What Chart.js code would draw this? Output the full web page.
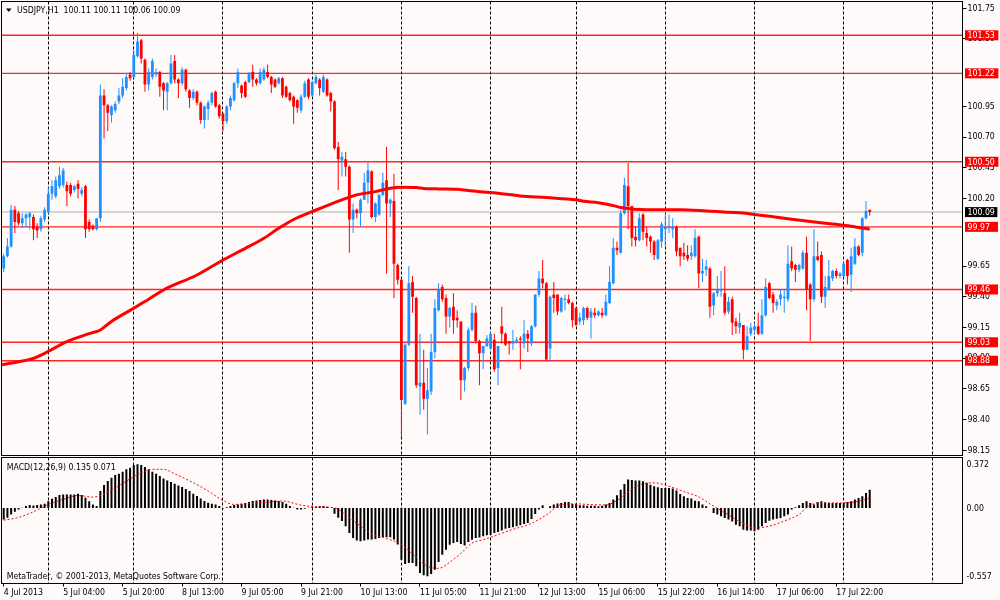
<!DOCTYPE html>
<html><head><meta charset="utf-8">
<script src="https://cdn.jsdelivr.net/npm/chart.js@4.4.0/dist/chart.umd.min.js"></script>
<style>
html,body{margin:0;padding:0;background:#fffafa;width:1000px;height:600px;overflow:hidden}
.w{position:absolute;left:0;width:1000px}
</style></head><body>
<div class="w" style="top:0;height:457px"><canvas id="c1" width="1000" height="457"></canvas></div>
<div class="w" style="top:457px;height:143px"><canvas id="c2" width="1000" height="143"></canvas></div>
<script>
// ---------- data (USDJPY H1) ----------
const symbol = 'USDJPY', period = 'H1';
const O = [99.63,99.73,99.81,100.11,100.08,100.00,100.04,100.05,100.05,99.97,
99.95,100.03,100.09,100.24,100.22,100.30,100.31,100.31,100.31,100.27,
100.32,100.24,100.30,100.01,99.98,99.95,100.04,101.04,100.96,100.88,
100.92,100.99,101.04,101.10,101.21,101.19,101.36,101.49,101.33,101.13,
101.19,101.21,101.23,101.14,101.07,101.14,101.32,101.17,101.14,101.25,
101.08,101.02,101.07,100.98,100.84,100.93,100.98,101.07,100.96,100.89,
100.83,100.95,101.00,101.14,101.12,101.15,101.15,101.23,101.17,101.14,
101.17,101.23,101.19,101.17,101.14,101.18,101.11,101.06,101.03,101.00,
100.92,101.03,101.17,101.04,101.14,101.17,101.07,101.17,101.06,100.99,
100.62,100.51,100.52,100.46,100.03,100.11,100.08,100.19,100.33,100.42,
100.05,100.07,100.23,100.35,100.16,100.18,99.66,99.54,98.53,99.01,
99.52,99.39,98.67,98.70,98.57,98.63,98.95,99.29,99.48,99.39,
99.24,99.32,99.23,99.20,98.72,98.82,99.13,99.27,99.04,98.94,
99.00,98.98,99.05,98.82,99.16,99.10,99.04,99.02,99.04,99.06,
99.02,99.10,99.02,99.16,99.42,99.55,99.51,98.98,99.42,99.42,
99.28,99.375,99.38,99.35,99.31,99.20,99.21,99.31,99.23,99.27,
99.25,99.27,99.25,99.35,99.51,99.80,99.76,100.08,100.30,100.14,
99.89,99.86,100.07,99.92,99.89,99.85,99.71,99.85,99.95,99.96,
99.95,99.97,99.80,99.76,99.74,99.73,99.73,99.89,99.59,99.62,
99.63,99.33,99.43,99.45,99.43,99.28,99.38,99.20,99.15,99.17,
98.97,99.10,99.13,99.16,99.10,99.25,99.51,99.42,99.33,99.38,
99.39,99.38,99.69,99.66,99.62,99.63,99.76,99.50,99.38,99.73,
99.74,99.40,99.46,99.55,99.61,99.57,99.57,99.70,99.58,99.67,
99.81,99.76,100.04,100.11];
const H = [99.75,99.88,100.15,100.14,100.10,100.08,100.08,100.09,100.07,100.00,
100.06,100.13,100.29,100.35,100.38,100.46,100.45,100.34,100.33,100.31,
100.35,100.29,100.31,100.03,99.99,100.04,101.13,101.09,100.97,100.96,
100.99,101.10,101.18,101.22,101.23,101.41,101.55,101.50,101.34,101.26,
101.34,101.26,101.24,101.15,101.15,101.37,101.37,101.18,101.27,101.26,
101.09,101.09,101.08,100.99,100.96,101.00,101.07,101.08,100.97,100.90,
100.96,101.04,101.15,101.26,101.13,101.16,101.23,101.29,101.18,101.26,
101.27,101.29,101.20,101.18,101.19,101.19,101.12,101.07,101.04,101.01,
101.05,101.16,101.18,101.16,101.21,101.18,101.21,101.18,101.07,101.00,
100.66,100.58,100.58,100.47,100.16,100.12,100.20,100.41,100.49,100.43,
100.17,100.24,100.41,100.62,100.20,100.40,99.67,99.55,99.02,99.65,
99.57,99.40,99.10,98.97,98.82,99.10,99.38,99.51,99.50,99.42,
99.32,99.43,99.29,99.20,98.83,99.15,99.35,99.33,99.05,99.00,
99.09,99.12,99.10,99.00,99.32,99.11,99.04,99.13,99.07,99.08,
99.21,99.13,99.17,99.42,99.61,99.70,99.52,99.41,99.52,99.42,
99.40,99.42,99.42,99.36,99.32,99.27,99.32,99.32,99.31,99.31,
99.29,99.31,99.42,99.65,99.88,99.85,100.11,100.37,100.49,100.14,
99.97,100.08,100.08,99.97,99.90,99.86,99.87,100.01,100.07,100.07,
100.04,99.98,99.80,99.84,99.82,99.82,99.95,99.90,99.71,99.70,
99.64,99.44,99.57,99.61,99.65,99.40,99.40,99.23,99.27,99.17,
99.16,99.19,99.19,99.27,99.38,99.55,99.52,99.44,99.38,99.46,
99.46,99.82,99.81,99.67,99.67,99.78,99.89,99.51,99.95,99.85,
99.77,99.57,99.70,99.62,99.63,99.60,99.68,99.71,99.80,99.88,
99.82,100.05,100.18,100.11];
const L = [99.60,99.72,99.80,99.92,99.98,99.96,99.97,99.95,99.86,99.88,
99.93,100.01,100.08,100.19,100.20,100.28,100.29,100.14,100.22,100.25,
100.20,100.22,99.88,99.93,99.94,99.94,100.01,100.69,100.75,100.82,
100.90,100.97,101.02,101.08,101.16,101.18,101.35,101.30,101.07,101.08,
101.17,101.19,101.03,100.92,100.92,101.13,101.14,101.02,101.12,101.07,
100.94,101.00,100.96,100.81,100.77,100.84,100.96,100.94,100.85,100.75,
100.81,100.92,100.99,101.10,101.02,101.02,101.14,101.11,101.12,101.13,
101.16,101.18,101.06,101.10,101.13,101.02,101.02,100.99,100.81,100.90,
100.90,101.02,101.01,101.03,101.13,101.04,101.06,101.03,100.91,100.60,
100.27,100.38,100.38,99.76,99.92,100.04,99.97,100.19,100.16,100.04,
100.01,100.06,100.22,99.59,100.05,99.39,99.50,98.26,98.52,99.00,
99.27,98.66,98.44,98.48,98.28,98.60,98.90,99.28,99.36,99.10,
99.15,99.10,99.15,98.56,98.63,98.80,99.12,99.02,98.68,98.81,
98.99,98.97,98.79,98.68,99.02,99.00,98.93,98.97,99.02,98.81,
98.98,98.95,99.00,99.15,99.40,99.47,98.88,98.87,99.27,99.25,
99.27,99.29,99.34,99.15,99.16,99.17,99.17,99.21,99.06,99.23,
99.24,99.23,99.24,99.34,99.50,99.74,99.75,100.07,99.95,99.81,
99.81,99.85,99.86,99.81,99.76,99.70,99.70,99.80,99.81,99.92,
99.88,99.73,99.65,99.70,99.69,99.70,99.72,99.47,99.52,99.57,
99.23,99.25,99.40,99.40,99.25,99.26,99.09,99.10,99.10,98.89,
98.97,99.08,99.10,99.09,99.09,99.24,99.38,99.27,99.29,99.33,
99.27,99.36,99.61,99.52,99.60,99.62,99.29,99.04,99.36,99.69,
99.35,99.31,99.45,99.53,99.55,99.55,99.56,99.50,99.44,99.66,
99.73,99.73,100.03,100.06];
const C = [99.73,99.81,100.11,100.01,100.00,100.04,100.07,100.08,99.95,99.94,
100.04,100.11,100.24,100.30,100.35,100.39,100.43,100.26,100.24,100.30,
100.28,100.27,99.95,99.95,99.95,100.04,101.04,100.96,100.90,100.95,
100.97,101.04,101.11,101.19,101.18,101.37,101.48,101.34,101.13,101.23,
101.32,101.23,101.11,101.08,101.14,101.30,101.17,101.14,101.25,101.09,
101.02,101.07,100.98,100.84,100.95,100.98,101.06,100.95,100.87,100.83,
100.95,101.02,101.14,101.23,101.06,101.03,101.22,101.17,101.14,101.23,
101.25,101.19,101.13,101.11,101.18,101.04,101.03,101.00,100.95,100.94,
101.03,101.14,101.03,101.15,101.19,101.10,101.19,101.04,100.99,100.61,
100.52,100.54,100.46,100.03,100.11,100.08,100.19,100.33,100.43,100.05,
100.16,100.23,100.33,100.16,100.19,99.67,99.54,98.56,99.01,99.51,
99.40,98.68,98.70,98.57,98.64,98.95,99.31,99.46,99.38,99.24,
99.31,99.21,99.21,98.72,98.82,99.13,99.27,99.04,98.94,99.00,
99.06,99.10,98.81,99.00,99.10,99.01,99.02,99.04,99.05,99.05,
99.10,99.06,99.16,99.42,99.55,99.51,98.89,99.40,99.39,99.28,
99.39,99.385,99.35,99.21,99.17,99.23,99.31,99.23,99.28,99.25,
99.28,99.25,99.36,99.52,99.80,99.78,100.08,100.31,100.14,99.88,
99.86,100.04,99.93,99.88,99.85,99.74,99.86,99.99,99.97,99.97,
99.97,99.77,99.73,99.73,99.71,99.76,99.88,99.59,99.61,99.65,
99.32,99.43,99.46,99.46,99.27,99.36,99.19,99.16,99.19,98.97,
99.08,99.15,99.16,99.10,99.25,99.48,99.39,99.35,99.36,99.42,
99.40,99.67,99.63,99.62,99.66,99.76,99.46,99.38,99.73,99.70,
99.40,99.48,99.57,99.61,99.57,99.59,99.67,99.57,99.73,99.81,
99.74,100.04,100.10,100.09];

// moving average (read at sampled bars)
const maBar = [-1,4,8,11,17,23,26,29,34,39,43,52,59,65,70,74,78,83,91,95,100,104,107,111,113,117,122,125,131,139,146,154,156,160,164,166,173,182,189,195,199,203,208,212,217,221,226,230,233];
const maVal = [98.845,98.872,98.899,98.94,99.035,99.10,99.13,99.20,99.29,99.38,99.456,99.578,99.70,99.795,99.877,99.958,100.03,100.094,100.19,100.23,100.257,100.284,100.292,100.29,100.283,100.279,100.276,100.265,100.249,100.222,100.208,100.19,100.178,100.167,100.143,100.128,100.11,100.11,100.10,100.088,100.083,100.067,100.048,100.032,100.013,99.999,99.983,99.965,99.951];

// horizontal levels
const levels = [101.53, 101.22, 100.50, 99.97, 99.46, 99.03, 98.88];
const priceTicks = [101.75,101.50,100.95,100.70,100.45,100.20,99.65,99.40,99.15,98.90,98.65,98.40,98.15];

// MACD(12,26,9)
const macdHist = [-0.085,-0.073,-0.048,-0.028,-0.011,0.001,0.014,0.021,0.018,0.021,
0.026,0.031,0.050,0.068,0.080,0.095,0.100,0.100,0.100,0.100,
0.105,0.095,0.075,0.050,0.026,0.014,0.125,0.169,0.198,0.223,
0.243,0.253,0.267,0.285,0.297,0.317,0.322,0.317,0.302,0.285,
0.267,0.253,0.235,0.218,0.203,0.191,0.179,0.166,0.154,0.139,
0.125,0.105,0.088,0.070,0.051,0.038,0.031,0.026,0.014,-0.004,
0.006,0.014,0.021,0.026,0.031,0.036,0.043,0.051,0.055,0.058,
0.063,0.063,0.058,0.055,0.051,0.043,0.031,0.014,0.001,-0.011,
-0.011,-0.006,0.001,0.006,0.009,0.014,0.014,0.009,0.001,-0.043,
-0.073,-0.097,-0.134,-0.184,-0.221,-0.240,-0.245,-0.240,-0.233,-0.233,
-0.228,-0.221,-0.216,-0.216,-0.216,-0.233,-0.270,-0.381,-0.413,-0.406,
-0.406,-0.430,-0.480,-0.497,-0.504,-0.487,-0.455,-0.398,
-0.345,-0.308,-0.271,-0.259,-0.251,-0.266,-0.276,-0.251,-0.234,-0.222,
-0.217,-0.209,-0.202,-0.197,-0.185,-0.177,-0.167,-0.153,-0.148,-0.143,
-0.135,-0.128,-0.118,-0.111,-0.081,-0.044,-0.012,0.020,0.000,0.012,
0.025,0.032,0.037,0.044,0.044,0.030,0.030,0.020,0.020,0.017,
0.017,0.017,0.012,0.017,0.025,0.037,0.062,0.094,0.135,0.177,
0.209,0.207,0.202,0.202,0.197,0.185,0.172,0.160,0.153,0.148,
0.148,0.148,0.143,0.128,0.103,0.086,0.074,0.069,0.054,0.049,
0.025,0.012,0.000,-0.037,-0.049,-0.062,-0.074,-0.086,-0.099,-0.123,
-0.135,-0.160,-0.167,-0.167,-0.172,-0.160,-0.135,-0.111,-0.094,-0.086,
-0.079,-0.074,-0.062,-0.049,-0.012,0.005,0.020,0.037,0.049,0.037,
0.025,0.044,0.049,0.042,0.037,0.037,0.037,0.037,0.037,0.044,
0.049,0.062,0.074,0.086,0.111,0.135];
const signalBar = [0,4,8,12,16,20,24,29,33,37,40,43,46,51,55,59,62,66,71,75,80,84,89,92,96,99,103,107,110,114,117,120,123,126,129,132,137,141,146,150,154,158,162,165,168,171,175,179,183,187,190,194,198,202,206,210,214,217,221,225,229,233];
const signalVal = [-0.090,-0.070,-0.028,0.026,0.063,0.092,0.080,0.132,0.198,0.260,0.285,0.285,0.252,0.186,0.125,0.055,0.026,0.031,0.043,0.051,0.021,0.009,0.001,-0.048,-0.134,-0.190,-0.226,-0.270,-0.340,-0.430,-0.445,-0.400,-0.335,-0.259,-0.234,-0.207,-0.158,-0.125,-0.052,0.025,0.030,0.025,0.022,0.055,0.118,0.170,0.185,0.160,0.120,0.082,0.030,-0.035,-0.099,-0.148,-0.134,-0.096,-0.048,0.022,0.037,0.037,0.044,0.071];
const macdAxisVals = [0.372, 0.00, -0.557];

// time axis
const dayStartBars = [12,35,59,83,107,131,154,178,202,226,250];
const labelBars = [0,16,32,48,64,80,96,112,128,144,160,176,192,208,224];
const timeLabels = ['4 Jul 2013','5 Jul 04:00','5 Jul 20:00','8 Jul 13:00','9 Jul 05:00','9 Jul 21:00','10 Jul 13:00','11 Jul 05:00','11 Jul 21:00','12 Jul 13:00','15 Jul 06:00','15 Jul 22:00','16 Jul 14:00','17 Jul 06:00','17 Jul 22:00'];

// ---------- rendering ----------
const FAM = "'DejaVu Sans Condensed', 'Liberation Sans', Arial, sans-serif";
const FSIZE = 8.7;
const FONT_CSS = FSIZE + 'px ' + FAM;
Chart.defaults.font.family = FAM;
Chart.defaults.font.size = FSIZE;
Chart.defaults.color = '#000';
const BLUE = '#1e90ff', RED = '#ff0000';
const X_MIN = -0.592, X_MAX = 257.96;
const last = C.length - 1;
const idx = C.map((_, i) => i);
const isBull = i => C[i] >= O[i];
const candleColor = ctx => isBull(ctx.dataIndex) ? BLUE : RED;
const noPad = s => { s.paddingTop = 0; s.paddingBottom = 0; s.paddingLeft = 0; s.paddingRight = 0; };

const gridX = {
  type: 'linear', min: X_MIN, max: X_MAX, offset: false, bounds: 'data',
  grid: { color: '#000', lineWidth: 1, drawTicks: false, offset: false },
  border: { display: false, dash: [3, 2] },
  ticks: { display: false },
  afterBuildTicks: s => { s.ticks = dayStartBars.map(v => ({ value: v })); },
  afterFit: s => { s.height = 0; noPad(s); }
};

const levelSets = levels.map(v => ({
  type: 'line', data: [{ x: -5, y: v }, { x: 265, y: v }],
  borderColor: 'rgba(255,0,0,0.85)', borderWidth: 1.4, pointRadius: 0, order: 10
}));
const lastLine = {
  type: 'line', data: [{ x: -5, y: C[last] }, { x: 265, y: C[last] }],
  borderColor: '#c8c8c8', borderWidth: 1.5, pointRadius: 0, order: 9
};

const title = symbol + ',' + period + '  ' + [O[last], H[last], L[last], C[last]].map(v => v.toFixed(2)).join(' ');

const mainDecor = {
  id: 'mainDecor',
  afterDraw(chart) {
    const { ctx, chartArea: a } = chart;
    const y = chart.scales.y;
    ctx.save();
    ctx.strokeStyle = '#000'; ctx.lineWidth = 1;
    ctx.strokeRect(a.left, a.top, a.right - a.left, a.bottom - a.top);
    ctx.font = FONT_CSS; ctx.textBaseline = 'middle'; ctx.textAlign = 'left';
    levels.forEach(v => {
      const txt = v.toFixed(2);
      const py = y.getPixelForValue(v);
      const w = Math.max(33, ctx.measureText(txt).width + 6);
      ctx.fillStyle = RED; ctx.fillRect(a.right + 2.5, py - 5, w, 10);
      ctx.fillStyle = '#fff'; ctx.fillText(txt, a.right + 5, py + 0.5);
    });
    const pTxt = C[last].toFixed(2);
    const pc = y.getPixelForValue(C[last]);
    const pw = Math.max(31, ctx.measureText(pTxt).width + 5);
    ctx.fillStyle = '#000'; ctx.fillRect(a.right + 2.5, pc - 5, pw, 10);
    ctx.fillStyle = '#fff'; ctx.fillText(pTxt, a.right + 5, pc + 0.5);
    ctx.fillStyle = '#000';
    ctx.beginPath(); ctx.moveTo(6, 8.5); ctx.lineTo(11.5, 8.5); ctx.lineTo(8.75, 12); ctx.closePath(); ctx.fill();
    ctx.fillText(title, 17, 10.5);
    ctx.restore();
  }
};

new Chart(document.getElementById('c1'), {
  type: 'bar',
  data: {
    datasets: [
      { type: 'line', data: maBar.map((b, k) => ({ x: b, y: maVal[k] })), borderColor: RED, borderWidth: 3, pointRadius: 0, cubicInterpolationMode: 'monotone', order: 1 },
      { type: 'bar', data: idx.map(i => ({ x: i, y: [Math.min(O[i], C[i]), Math.max(O[i], C[i])] })), backgroundColor: candleColor, barThickness: 2.8, minBarLength: 1, grouped: false, inflateAmount: 0, order: 2 },
      { type: 'bar', data: idx.map(i => ({ x: i, y: [L[i], H[i]] })), backgroundColor: candleColor, barThickness: 1, grouped: false, inflateAmount: 0, order: 3 },
      lastLine,
      ...levelSets
    ]
  },
  options: {
    responsive: false, animation: false, events: [],
    layout: { padding: { left: 1.5, top: 1.5, right: 0, bottom: 1.5 } },
    plugins: { legend: { display: false }, tooltip: { enabled: false } },
    scales: {
      x: gridX,
      y: {
        type: 'linear', position: 'right', min: 98.108, max: 101.805, bounds: 'data',
        grid: { drawOnChartArea: false, drawTicks: true, tickLength: 4, color: '#000' },
        border: { display: true, color: '#000' },
        ticks: { color: '#000', font: { size: FSIZE }, padding: 1, callback: v => Number(v).toFixed(2) },
        afterBuildTicks: s => { s.ticks = priceTicks.map(v => ({ value: v })); },
        afterFit: s => { s.width = 37.5; noPad(s); }
      }
    }
  },
  plugins: [mainDecor]
});

const macdTitle = 'MACD(12,26,9) ' + macdHist[last].toFixed(3) + ' ' + signalVal[signalVal.length - 1].toFixed(3);
const macdDecor = {
  id: 'macdDecor',
  afterDraw(chart) {
    const { ctx, chartArea: a } = chart;
    const y = chart.scales.y;
    ctx.save();
    ctx.strokeStyle = '#000'; ctx.lineWidth = 1;
    ctx.strokeRect(a.left, a.top, a.right - a.left, a.bottom - a.top);
    ctx.font = FONT_CSS; ctx.textBaseline = 'middle'; ctx.textAlign = 'left'; ctx.fillStyle = '#000';
    macdAxisVals.forEach(v => {
      let py = y.getPixelForValue(v);
      if (v === y.max) py += 7.5; else if (v === y.min) py -= 6.5; else py += 1;
      ctx.fillText(v === 0 ? '0.00' : String(v), a.right + 4, py);
    });
    ctx.fillText(macdTitle, 6.7, 10.3);
    ctx.fillText('MetaTrader, \u00a9 2001-2013, MetaQuotes Software Corp.', 6.7, 119.7);
    ctx.restore();
  }
};

new Chart(document.getElementById('c2'), {
  type: 'bar',
  data: {
    datasets: [
      { type: 'line', data: signalBar.map((b, k) => ({ x: b, y: signalVal[k] })), borderColor: RED, borderWidth: 1, borderDash: [2, 2], pointRadius: 0, cubicInterpolationMode: 'monotone', order: 1 },
      { type: 'bar', data: idx.map(i => ({ x: i, y: macdHist[i] })), backgroundColor: '#000', barThickness: 2, grouped: false, inflateAmount: 0, order: 2 }
    ]
  },
  options: {
    responsive: false, animation: false, events: [],
    layout: { padding: { left: 1.5, top: 0.5, right: 0, bottom: 0 } },
    plugins: { legend: { display: false }, tooltip: { enabled: false } },
    scales: {
      x: gridX,
      xl: {
        type: 'linear', position: 'bottom', min: X_MIN, max: X_MAX, offset: false, bounds: 'data',
        grid: { drawOnChartArea: false, drawTicks: true, tickLength: 3, color: '#000', offset: false },
        border: { display: false },
        ticks: { color: '#000', font: { size: FSIZE }, align: 'start', padding: 1, maxRotation: 0, minRotation: 0, autoSkip: false,
          callback: v => { const k = labelBars.indexOf(v); return k >= 0 ? timeLabels[k] : ''; } },
        afterBuildTicks: s => { s.ticks = labelBars.map(v => ({ value: v })); },
        afterFit: s => { s.height = 16.5; noPad(s); }
      },
      y: {
        type: 'linear', position: 'right', min: -0.557, max: 0.372, bounds: 'data',
        grid: { display: false },
        border: { display: true, color: '#000' },
        ticks: { display: false },
        afterFit: s => { s.width = 37.5; noPad(s); }
      }
    }
  },
  plugins: [macdDecor]
});
</script>
</body></html>
